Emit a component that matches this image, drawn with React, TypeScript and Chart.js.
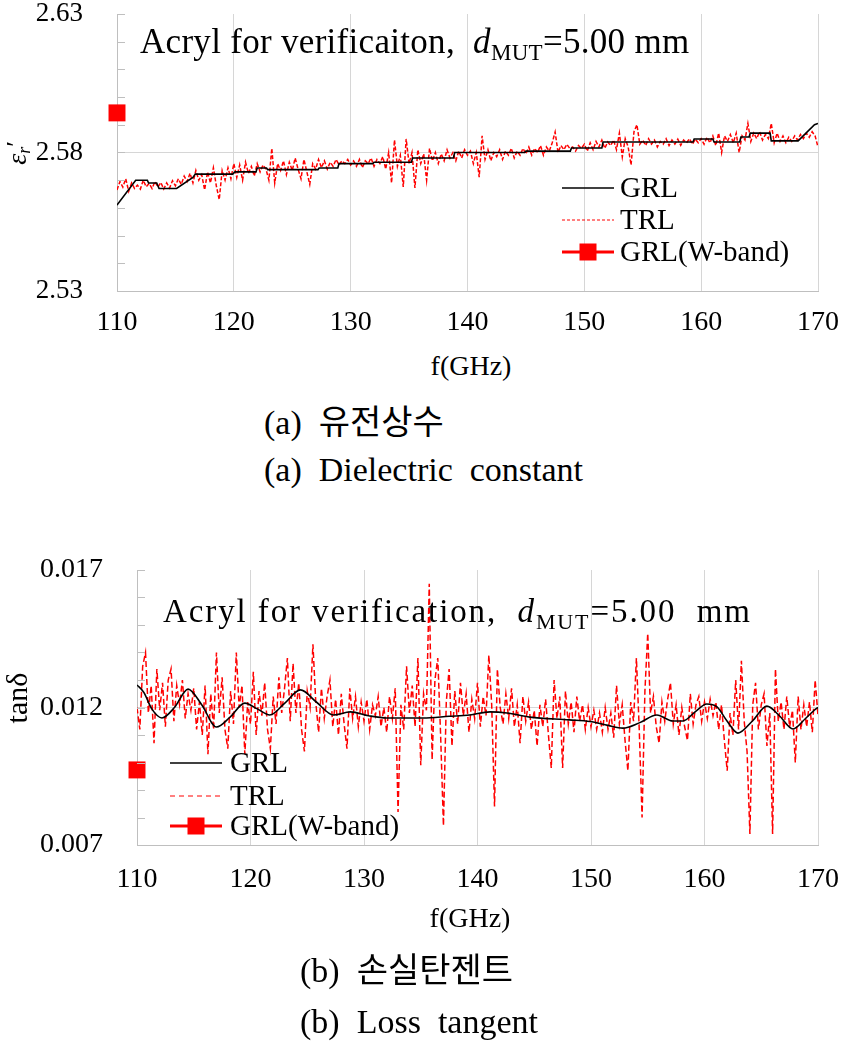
import React, { useEffect, useRef } from 'react';
import { Chart, registerables } from 'chart.js';

Chart.register(...registerables);

const FONT = "'Liberation Serif', 'Times New Roman', serif";
const KFONT = "'Noto Sans CJK KR', sans-serif";

// ---------- shared ----------
const freqTicks = [110, 120, 130, 140, 150, 160, 170];

// ---------- panel (a): dielectric constant ----------
const epsGrlFreq = [110.0, 111.6, 112.6, 112.7, 113.4, 113.6, 115.1, 116.5, 116.7, 119.9, 120.1, 121.9, 122.0, 122.8, 122.9, 127.2, 127.3, 128.9, 129.0, 131.9, 132.0, 135.2, 135.3, 138.8, 138.9, 144.9, 145.0, 148.8, 148.9, 151.5, 151.6, 159.3, 159.4, 161.0, 161.1, 163.3, 163.4, 164.1, 164.2, 165.9, 166.0, 168.3, 169.7, 170.0];
const epsGrlVals = [2.561, 2.570, 2.570, 2.569, 2.569, 2.567, 2.567, 2.571, 2.5722, 2.5722, 2.573, 2.573, 2.5744, 2.5744, 2.5738, 2.5738, 2.5744, 2.5744, 2.576, 2.576, 2.5765, 2.5765, 2.578, 2.578, 2.580, 2.580, 2.5805, 2.5805, 2.5816, 2.5816, 2.5838, 2.5838, 2.5849, 2.5849, 2.5838, 2.5838, 2.5856, 2.5856, 2.587, 2.587, 2.5842, 2.5842, 2.590, 2.5905];
// TRL, evenly spaced from 110 to 170 GHz
const epsTrlVals = [
  2.5665, 2.5695, 2.5675, 2.5705, 2.5660, 2.5690, 2.5670, 2.5682, 2.5668, 2.5700, 2.5676,
  2.5688, 2.5670, 2.5695, 2.5675, 2.5692, 2.5668, 2.5690, 2.5672, 2.5698,
  2.5680, 2.5705, 2.5685, 2.5715, 2.5695, 2.5725, 2.5690, 2.5735, 2.5700, 2.5720, 2.5665,
  2.5730, 2.5690, 2.5745, 2.5680, 2.5630, 2.5735, 2.5700, 2.5745, 2.5705,
  2.5760, 2.5710, 2.5755, 2.5700, 2.5765, 2.5725, 2.5750, 2.5715, 2.5760, 2.5730, 2.5755,
  2.5740, 2.5700, 2.5815, 2.5690, 2.5760, 2.5735, 2.5770, 2.5720, 2.5765,
  2.5735, 2.5780, 2.5740, 2.5705, 2.5775, 2.5730, 2.5685, 2.5760, 2.5740, 2.5775, 2.5745,
  2.5770, 2.5740, 2.5765, 2.5750, 2.5775, 2.5755, 2.5770, 2.5760, 2.5775,
  2.5755, 2.5770, 2.5750, 2.5775, 2.5745, 2.5770, 2.5760, 2.5780, 2.5750, 2.5775, 2.5760,
  2.5785, 2.5740, 2.5800, 2.5690, 2.5845, 2.5750, 2.5790, 2.5676, 2.5849,
  2.5760, 2.5800, 2.5672, 2.5810, 2.5760, 2.5795, 2.5700, 2.5815, 2.5770, 2.5800, 2.5760,
  2.5795, 2.5770, 2.5810, 2.5780, 2.5800, 2.5770, 2.5805, 2.5780, 2.5810,
  2.5790, 2.5805, 2.5760, 2.5800, 2.5711, 2.5860, 2.5775, 2.5810, 2.5770, 2.5800, 2.5785,
  2.5810, 2.5775, 2.5805, 2.5790, 2.5815, 2.5780, 2.5805, 2.5790, 2.5815,
  2.5795, 2.5820, 2.5790, 2.5815, 2.5800, 2.5825, 2.5790, 2.5820, 2.5805, 2.5835, 2.5874,
  2.5800, 2.5825, 2.5810, 2.5830, 2.5815, 2.5820, 2.5805, 2.5825, 2.5815,
  2.5830, 2.5805, 2.5835, 2.5810, 2.5840, 2.5820, 2.5845, 2.5815, 2.5838, 2.5825, 2.5845,
  2.5810, 2.5870, 2.5784, 2.5850, 2.5820, 2.5755, 2.5875, 2.5900, 2.5830,
  2.5845, 2.5825, 2.5850, 2.5830, 2.5845, 2.5820, 2.5840, 2.5830, 2.5850, 2.5825, 2.5845,
  2.5830, 2.5848, 2.5826, 2.5845, 2.5835, 2.5850, 2.5830, 2.5848, 2.5835,
  2.5850, 2.5830, 2.5855, 2.5835, 2.5860, 2.5825, 2.5870, 2.5800, 2.5860, 2.5840, 2.5865,
  2.5835, 2.5870, 2.5800, 2.5860, 2.5845, 2.5905, 2.5840, 2.5870, 2.5850,
  2.5875, 2.5845, 2.5865, 2.5850, 2.5905, 2.5835, 2.5870, 2.5840, 2.5860, 2.5835, 2.5855,
  2.5840, 2.5860, 2.5845, 2.5865, 2.5850, 2.5870, 2.5855, 2.5875, 2.5860, 2.5820,
];
const epsWbandFreq = [110];
const epsWbandVals = [2.5943];
const epsTickLabels = [2.53, 2.58, 2.63];

// ---------- panel (b): loss tangent ----------
const tanGrlFreq = [110.0, 110.6, 111.3, 112.2, 113.3, 114.5, 115.7, 117.0, 118.2, 119.5, 120.6, 121.7, 123.0, 124.4, 125.8, 127.3, 128.8, 130.4, 132.0, 135.2, 137.5, 139.3, 141.1, 142.6, 144.6, 148.1, 149.9, 151.5, 152.8, 154.3, 155.8, 157.2, 158.1, 159.2, 160.2, 161.1, 162.0, 162.95, 164.2, 165.5, 166.6, 167.8, 168.9, 169.9, 170.0];
const tanGrlVals = [0.01282, 0.01255, 0.01195, 0.01162, 0.01200, 0.01267, 0.01210, 0.01129, 0.01165, 0.01216, 0.01195, 0.01173, 0.01215, 0.01264, 0.01220, 0.01173, 0.01184, 0.01170, 0.01162, 0.01162, 0.01168, 0.01173, 0.01184, 0.01180, 0.01165, 0.01155, 0.01149, 0.01135, 0.01125, 0.01145, 0.01173, 0.01151, 0.01151, 0.01185, 0.01213, 0.01202, 0.01150, 0.01107, 0.01150, 0.01205, 0.01170, 0.01122, 0.01160, 0.01198, 0.01200];
const tanTrlVals = [
  0.0120, 0.0112, 0.0135, 0.0140, 0.0118, 0.0128, 0.0107, 0.0134, 0.0119, 0.0129,
  0.0113, 0.0130, 0.0134, 0.0115, 0.0128, 0.0121, 0.0130, 0.0116, 0.0125, 0.0119,
  0.0127, 0.0112, 0.0122, 0.0110, 0.0128, 0.0103, 0.0125, 0.0112, 0.0140, 0.0118,
  0.0131, 0.0112, 0.0105, 0.0126, 0.0114, 0.0140, 0.0120, 0.0128, 0.0103, 0.0122,
  0.0114, 0.0133, 0.0110, 0.0126, 0.0117, 0.0129, 0.0112, 0.0105, 0.0124, 0.0114,
  0.0131, 0.0118, 0.0127, 0.0138, 0.0115, 0.0136, 0.0118, 0.0129, 0.0112, 0.0104,
  0.0126, 0.0120, 0.0143, 0.0122, 0.0111, 0.0127, 0.0116, 0.0124, 0.0130, 0.0113,
  0.0123, 0.0110, 0.0125, 0.0114, 0.0105, 0.0127, 0.0116, 0.0124, 0.0113, 0.0122,
  0.0115, 0.0123, 0.0112, 0.0121, 0.0117, 0.0124, 0.0113, 0.0120, 0.0111, 0.0124,
  0.0116, 0.0127, 0.0082, 0.0121, 0.0112, 0.0135, 0.0118, 0.0128, 0.0113, 0.0138,
  0.0099, 0.0125, 0.0119, 0.0165, 0.0101, 0.0130, 0.0138, 0.0110, 0.0077, 0.0122,
  0.0134, 0.0106, 0.0126, 0.0114, 0.0129, 0.0117, 0.0125, 0.0111, 0.0123, 0.0116,
  0.0129, 0.0113, 0.0124, 0.0117, 0.0139, 0.0121, 0.0084, 0.0134, 0.0120, 0.0114,
  0.0125, 0.0116, 0.0127, 0.0113, 0.0121, 0.0107, 0.0124, 0.0115, 0.0122, 0.0112,
  0.0119, 0.0106, 0.0121, 0.0113, 0.0123, 0.0110, 0.0098, 0.0130, 0.0116, 0.0124,
  0.0098, 0.0126, 0.0114, 0.0122, 0.0111, 0.0124, 0.0115, 0.0121, 0.0112, 0.0120,
  0.0113, 0.0119, 0.0112, 0.0118, 0.0111, 0.0120, 0.0112, 0.0118, 0.0109, 0.0128,
  0.0114, 0.0121, 0.0108, 0.0097, 0.0122, 0.0115, 0.0138, 0.0112, 0.0080, 0.0126,
  0.0147, 0.0118, 0.0124, 0.0113, 0.0107, 0.0122, 0.0115, 0.0123, 0.0129, 0.0114,
  0.0121, 0.0110, 0.0120, 0.0113, 0.0108, 0.0125, 0.0114, 0.0121, 0.0124, 0.0115,
  0.0122, 0.0116, 0.0123, 0.0117, 0.0122, 0.0112, 0.0121, 0.0108, 0.0097, 0.0118,
  0.0110, 0.0130, 0.0112, 0.0137, 0.0115, 0.0104, 0.0074, 0.0121, 0.0129, 0.0112,
  0.0121, 0.0125, 0.0106, 0.0118, 0.0074, 0.0134, 0.0115, 0.0122, 0.0112, 0.0124,
  0.0113, 0.0119, 0.0100, 0.0124, 0.0112, 0.0121, 0.0113, 0.0122, 0.0111, 0.0130,
  0.0117,
];
const tanWbandFreq = [110];
const tanWbandVals = [0.00973];
const tanTickLabels = [0.007, 0.012, 0.017];

// ---------- helpers ----------
const pts = (fs: number[], vs: number[]) => vs.map((v, i) => ({ x: fs[i], y: v }));
const evenPts = (vs: number[]) => vs.map((v, i) => ({ x: 110 + (60 * i) / (vs.length - 1), y: v }));
const near = (list: number[], v: number) => list.some((t) => Math.abs(t - v) < 1e-9);

const GRID = '#d6d6d6';
const AXIS = '#bfbfbf';
const CLEAR = 'rgba(0,0,0,0)';

const minorTicksPlugin = {
  id: 'minorTicks',
  afterDatasetsDraw(chart: any, _a: any, opts: any) {
    const s = chart.scales.y;
    const { ctx, chartArea } = chart;
    ctx.save();
    ctx.strokeStyle = AXIS;
    ctx.lineWidth = 1;
    s.ticks.forEach((t: any) => {
      const y = Math.round(s.getPixelForValue(t.value)) + 0.5;
      ctx.beginPath();
      ctx.moveTo(chartArea.left, y);
      ctx.lineTo(chartArea.left + opts.length, y);
      ctx.stroke();
    });
    ctx.restore();
  },
};

const insideLegendPlugin = {
  id: 'insideLegend',
  afterDatasetsDraw(chart: any, _a: any, opts: any) {
    const { ctx } = chart;
    const items = opts.items || [];
    for (let i = 0; i < items.length; i++) {
      const it = items[i];
      ctx.save();
      ctx.strokeStyle = it.color;
      ctx.lineWidth = it.width;
      ctx.setLineDash(it.dash ? [it.dash[0], it.dash[1]] : []);
      ctx.beginPath();
      ctx.moveTo(opts.x1, it.y);
      ctx.lineTo(opts.x2, it.y);
      ctx.stroke();
      ctx.setLineDash([]);
      if (it.marker) {
        const cx = (opts.x1 + opts.x2) / 2;
        ctx.fillStyle = it.color;
        ctx.fillRect(cx - 8.5, it.y - 8.5, 17, 17);
      }
      ctx.fillStyle = '#000';
      ctx.font = `${opts.size}px ${FONT}`;
      ctx.textBaseline = 'middle';
      ctx.textAlign = 'left';
      ctx.fillText(it.text, opts.textX, it.y + 1);
      ctx.restore();
    }
  },
};

const axisTitlePlugin = {
  id: 'axisTitle',
  afterDraw(chart: any, _a: any, opts: any) {
    const { ctx } = chart;
    const parts = opts.parts || [];
    ctx.save();
    ctx.translate(opts.x, opts.y);
    ctx.rotate(-Math.PI / 2);
    ctx.fillStyle = '#000';
    ctx.textBaseline = 'alphabetic';
    ctx.textAlign = 'left';
    let total = 0;
    for (let i = 0; i < parts.length; i++) {
      const p = parts[i];
      ctx.font = `${p.italic ? 'italic ' : ''}${p.size}px ${FONT}`;
      total += ctx.measureText(p.text).width + (p.gap || 0);
    }
    let lx = -total / 2;
    for (let i = 0; i < parts.length; i++) {
      const p = parts[i];
      ctx.font = `${p.italic ? 'italic ' : ''}${p.size}px ${FONT}`;
      ctx.fillText(p.text, lx, p.dy);
      lx += ctx.measureText(p.text).width + (p.gap || 0);
    }
    ctx.restore();
  },
};

type PanelCfg = {
  width: number;
  height: number;
  datasets: any[];
  yMin: number;
  yMax: number;
  yStep: number;
  yLabels: number[];
  yDecimals: number;
  yFontSize: number;
  yWidth: number;
  padTop: number;
  padRight: number;
  xHeight: number;
  xGap: number;
  legend: any;
  axisTitle: any;
};

function buildConfig(c: PanelCfg): any {
  return {
    type: 'line',
    data: { datasets: c.datasets },
    plugins: [minorTicksPlugin, insideLegendPlugin, axisTitlePlugin],
    options: {
      animation: false,
      responsive: false,
      maintainAspectRatio: false,
      events: [],
      layout: { padding: { left: 0, right: c.padRight, top: c.padTop, bottom: 0 } },
      plugins: {
        legend: { display: false },
        tooltip: { enabled: false },
        minorTicks: { length: 8 },
        insideLegend: c.legend,
        axisTitle: c.axisTitle,
      },
      scales: {
        x: {
          type: 'linear',
          min: freqTicks[0],
          max: freqTicks[freqTicks.length - 1],
          afterBuildTicks: (s: any) => {
            s.ticks = freqTicks.map((v) => ({ value: v }));
          },
          afterFit: (s: any) => {
            s.height = c.xHeight;
          },
          ticks: {
            color: '#000',
            font: { family: FONT, size: 28, lineHeight: 1 },
            padding: 0,
            maxRotation: 0,
            autoSkip: false,
            callback: (v: any) => String(v),
          },
          grid: { color: GRID, drawTicks: true, tickLength: c.xGap, tickColor: CLEAR, lineWidth: 1 },
          border: { display: true, color: AXIS, width: 1 },
        },
        y: {
          type: 'linear',
          min: c.yMin,
          max: c.yMax,
          afterFit: (s: any) => {
            s.width = c.yWidth;
          },
          ticks: {
            stepSize: c.yStep,
            autoSkip: false,
            color: '#000',
            padding: 0,
            font: { family: FONT, size: c.yFontSize, lineHeight: 1 },
            callback: (v: any) => (near(c.yLabels, Number(v)) ? Number(v).toFixed(c.yDecimals) : ''),
          },
          grid: {
            drawTicks: true,
            tickLength: 34,
            tickColor: CLEAR,
            lineWidth: 1,
            color: (ctx: any) => {
              const v = ctx.tick ? ctx.tick.value : NaN;
              return Math.abs(v - c.yLabels[1]) < 1e-9 ? GRID : CLEAR;
            },
          },
          border: { display: true, color: AXIS, width: 1 },
        },
      },
    },
  };
}

function ChartCanvas({ cfg, top }: { cfg: PanelCfg; top: number }) {
  const ref = useRef<HTMLCanvasElement | null>(null);
  useEffect(() => {
    if (!ref.current) return;
    const chart = new Chart(ref.current, buildConfig(cfg));
    return () => chart.destroy();
  }, []);
  return (
    <canvas
      ref={ref}
      width={cfg.width}
      height={cfg.height}
      style={{ position: 'absolute', left: 0, top, width: cfg.width, height: cfg.height }}
    />
  );
}

const epsCfg: PanelCfg = {
  width: 843,
  height: 350,
  datasets: [
    { label: 'GRL', data: pts(epsGrlFreq, epsGrlVals), borderColor: '#000', borderWidth: 1.6, pointRadius: 0, tension: 0, fill: false },
    { label: 'TRL', data: evenPts(epsTrlVals), borderColor: '#ff0000', borderWidth: 1.5, borderDash: [4, 2], pointRadius: 0, tension: 0, fill: false },
    { label: 'GRL(W-band)', data: pts(epsWbandFreq, epsWbandVals), showLine: false, pointStyle: 'rect', pointRadius: 12, backgroundColor: '#ff0000', borderColor: '#ff0000', borderWidth: 0, clip: false },
  ],
  yMin: 2.53,
  yMax: 2.63,
  yStep: 0.01,
  yLabels: epsTickLabels,
  yDecimals: 2,
  yFontSize: 27,
  yWidth: 117,
  padTop: 14,
  padRight: 25,
  xHeight: 59,
  xGap: 18,
  legend: {
    x1: 562,
    x2: 614,
    textX: 620,
    size: 29,
    items: [
      { text: 'GRL', y: 188, color: '#000', width: 1.5 },
      { text: 'TRL', y: 220, color: '#ff0000', width: 1, dash: [3, 2] },
      { text: 'GRL(W-band)', y: 252, color: '#ff0000', width: 3, marker: true },
    ],
  },
  axisTitle: {
    x: 26,
    y: 153,
    parts: [
      { text: 'ε', size: 28, italic: true, dy: 0 },
      { text: 'r', size: 18, italic: true, dy: 4 },
      { text: '′', size: 26, italic: false, dy: -2 },
    ],
  },
};

const tanCfg: PanelCfg = {
  width: 843,
  height: 365,
  datasets: [
    { label: 'GRL', data: pts(tanGrlFreq, tanGrlVals), borderColor: '#000', borderWidth: 1.6, pointRadius: 0, cubicInterpolationMode: 'monotone', fill: false },
    { label: 'TRL', data: evenPts(tanTrlVals), borderColor: '#ff0000', borderWidth: 1.5, borderDash: [6, 3], pointRadius: 0, tension: 0, fill: false },
    { label: 'GRL(W-band)', data: pts(tanWbandFreq, tanWbandVals), showLine: false, pointStyle: 'rect', pointRadius: 12, backgroundColor: '#ff0000', borderColor: '#ff0000', borderWidth: 0, clip: false },
  ],
  yMin: 0.007,
  yMax: 0.017,
  yStep: 0.001,
  yLabels: tanTickLabels,
  yDecimals: 3,
  yFontSize: 28,
  yWidth: 137,
  padTop: 30,
  padRight: 25,
  xHeight: 60,
  xGap: 21,
  legend: {
    x1: 170,
    x2: 222,
    textX: 230,
    size: 29,
    items: [
      { text: 'GRL', y: 223, color: '#000', width: 1.5 },
      { text: 'TRL', y: 256, color: '#ff0000', width: 1, dash: [5, 4] },
      { text: 'GRL(W-band)', y: 286, color: '#ff0000', width: 3, marker: true },
    ],
  },
  axisTitle: {
    x: 17,
    y: 158,
    parts: [{ text: 'tanδ', size: 30, italic: false, dy: 10 }],
  },
};

function Txt({ left, top, size, children, center, family, style }: any) {
  return (
    <div
      style={{
        position: 'absolute',
        left,
        top,
        fontFamily: family || FONT,
        fontSize: size,
        lineHeight: `${size}px`,
        whiteSpace: 'pre',
        color: '#000',
        transform: center ? 'translateX(-50%)' : undefined,
        ...style,
      }}
    >
      {children}
    </div>
  );
}

export default function App() {
  return (
    <div style={{ position: 'absolute', left: 0, top: 0, width: 843, height: 1047, background: '#fff', overflow: 'hidden' }}>
      <ChartCanvas cfg={epsCfg} top={0} />
      <Txt left={140} top={24} size={35} style={{ letterSpacing: '0.3px' }}>
        {'Acryl for verificaiton,  '}
        <i>d</i>
        <span style={{ fontSize: 23, position: 'relative', top: 7 }}>MUT</span>
        {'=5.00 mm'}
      </Txt>
      <Txt left={471} top={352} size={28} center>
        f(GHz)
      </Txt>
      <Txt left={264} top={403} size={34}>
        {'(a)  '}
        <span style={{ fontFamily: KFONT }}>유전상수</span>
      </Txt>
      <Txt left={264} top={453} size={34}>
        {'(a)  Dielectric  constant'}
      </Txt>

      <ChartCanvas cfg={tanCfg} top={540} />
      <Txt left={163} top={595} size={33} style={{ letterSpacing: '1.9px' }}>
        {'Acryl for verification,  '}
        <i>d</i>
        <span style={{ fontSize: 22, position: 'relative', top: 7 }}>MUT</span>
        {'=5.00  mm'}
      </Txt>
      <Txt left={470} top={904} size={28} center>
        f(GHz)
      </Txt>
      <Txt left={300} top={951} size={34}>
        {'(b)  '}
        <span style={{ fontFamily: KFONT }}>손실탄젠트</span>
      </Txt>
      <Txt left={300} top={1005} size={34}>
        {'(b)  Loss  tangent'}
      </Txt>
    </div>
  );
}
